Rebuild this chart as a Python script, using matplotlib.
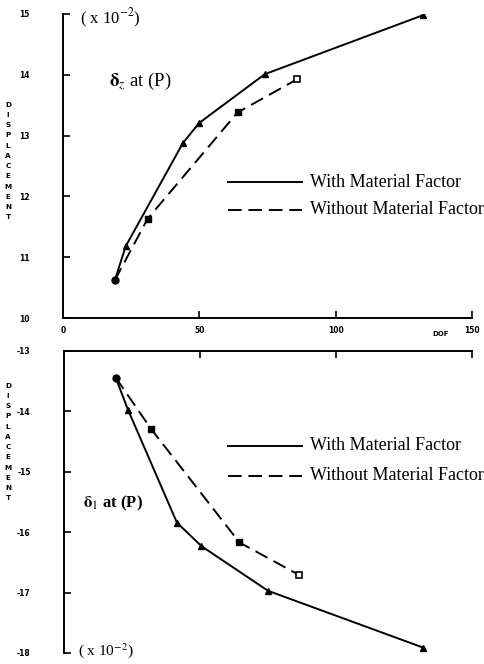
import matplotlib
matplotlib.use("Agg")
import matplotlib.pyplot as plt

plt.rcParams["axes.unicode_minus"] = False
plt.rcParams["mathtext.fontset"] = "stix"

# ---- data ----
top_with_x = [19, 23, 44, 50, 74, 132]
top_with_y = [10.62, 11.18, 12.88, 13.21, 14.01, 14.98]
top_without_x = [19, 31, 64, 86]
top_without_y = [10.62, 11.63, 13.38, 13.93]

bot_with_x = [19, 23.5, 41.5, 50.5, 75, 132]
bot_with_y = [-13.44, -13.97, -15.84, -16.23, -16.97, -17.91]
bot_without_x = [19, 32, 64.5, 86.5]
bot_without_y = [-13.44, -14.29, -16.17, -16.71]

x_ticks = [0, 50, 100, 150]
top_yticks = [10, 11, 12, 13, 14, 15]
bot_yticks = [-13, -14, -15, -16, -17, -18]

label_with = "With Material Factor"
label_without = "Without Material Factor"

serif = ["Liberation Serif", "DejaVu Serif"]
W, H = 485, 664
fig = plt.figure(figsize=(W / 100, H / 100), dpi=100)

def px_axes(x0, y0, x1, y1):
    return fig.add_axes([x0 / W, 1 - y1 / H, (x1 - x0) / W, (y1 - y0) / H])

ax1 = px_axes(63, 14, 472, 318)
ax2 = px_axes(64, 351, 472, 653)

dash = (0, (7, 3.5))

def draw(ax, wx, wy, ox, oy):
    ax.plot(wx, wy, color="black", lw=1.4)
    ax.plot(ox, oy, color="black", lw=1.4, linestyle=dash)
    ax.plot(wx[1:], wy[1:], linestyle="none", marker="^", ms=4.2, color="black")
    ax.plot(ox[1:-1], oy[1:-1], linestyle="none", marker="s", ms=3.8, color="black")
    ax.plot(ox[-1:], oy[-1:], linestyle="none", marker="s", ms=3.8,
            markerfacecolor="white", markeredgecolor="black", mew=1.2)
    ax.plot(wx[:1], wy[:1], linestyle="none", marker="o", ms=5, color="black")
    ax.set_xlim(0, 150)
    ax.set_xticks(x_ticks)

# Top panel
draw(ax1, top_with_x, top_with_y, top_without_x, top_without_y)
ax1.set_ylim(10, 15)
ax1.set_yticks(top_yticks)
for s in ["top", "right"]:
    ax1.spines[s].set_visible(False)
ax1.tick_params(direction="in", length=5, width=1.2, labelsize=5.5, pad=6)
ax1.tick_params(axis="y", pad=24)
for lab in ax1.get_xticklabels() + ax1.get_yticklabels():
    lab.set_fontweight("bold")
ax1.spines["left"].set_linewidth(1.4)
ax1.spines["bottom"].set_linewidth(1.4)

# Bottom panel
draw(ax2, bot_with_x, bot_with_y, bot_without_x, bot_without_y)
ax2.set_ylim(-18, -13)
ax2.set_yticks(bot_yticks)
for s in ["bottom", "right"]:
    ax2.spines[s].set_visible(False)
ax2.xaxis.tick_top()
ax2.tick_params(axis="x", direction="in", length=5, width=1.2, labeltop=False)
ax2.tick_params(axis="y", direction="in", length=5, width=1.2, labelsize=5.5, pad=24)
for lab in ax2.get_yticklabels():
    lab.set_fontweight("bold")
ax2.spines["left"].set_linewidth(1.4)
ax2.spines["top"].set_linewidth(1.4)

# DOF label
fig.text(441 / W, 1 - 334 / H, "DOF", fontsize=5, fontweight="bold",
         ha="center", va="center")

# Vertical stacked DISPLACEMENT labels
vert = "\n".join("DISPLACEMENT")
for yc in (161, 442):
    fig.text(8 / W, 1 - yc / H, vert, fontsize=5.2, fontweight="bold",
             ha="center", va="center", linespacing=1.85)

# Legends (drawn as lines + text in figure pixel space)
def legend(y_solid, y_dash):
    fig.add_artist(plt.Line2D([228 / W, 302 / W], [1 - y_solid / H] * 2,
                              color="black", lw=1.4))
    fig.add_artist(plt.Line2D([228 / W, 302 / W], [1 - y_dash / H] * 2,
                              color="black", lw=1.4, linestyle=dash))
    fig.text(310 / W, 1 - y_solid / H, label_with, family=serif,
             fontsize=13, ha="left", va="center")
    fig.text(310 / W, 1 - y_dash / H, label_without, family=serif,
             fontsize=13, ha="left", va="center")

legend(182, 210)
legend(446, 476)

# Annotations
fig.text(109 / W, 1 - 81 / H, r"$\mathbf{\delta}_{z}$ at (P)", family=serif,
         fontsize=13.5, ha="left", va="center")
fig.text(83 / W, 1 - 503 / H, r"$\mathbf{\delta}_{1}$ at (P)", family=serif,
         fontsize=12, ha="left", va="center", fontweight="bold")
fig.text(80 / W, 1 - 18 / H, r"( x 10$^{-2}$)", family=serif,
         fontsize=12, ha="left", va="center")
fig.text(78 / W, 1 - 651 / H, r"( x 10$^{-2}$)", family=serif,
         fontsize=11, ha="left", va="center")

fig.savefig("out.png", dpi=100)
